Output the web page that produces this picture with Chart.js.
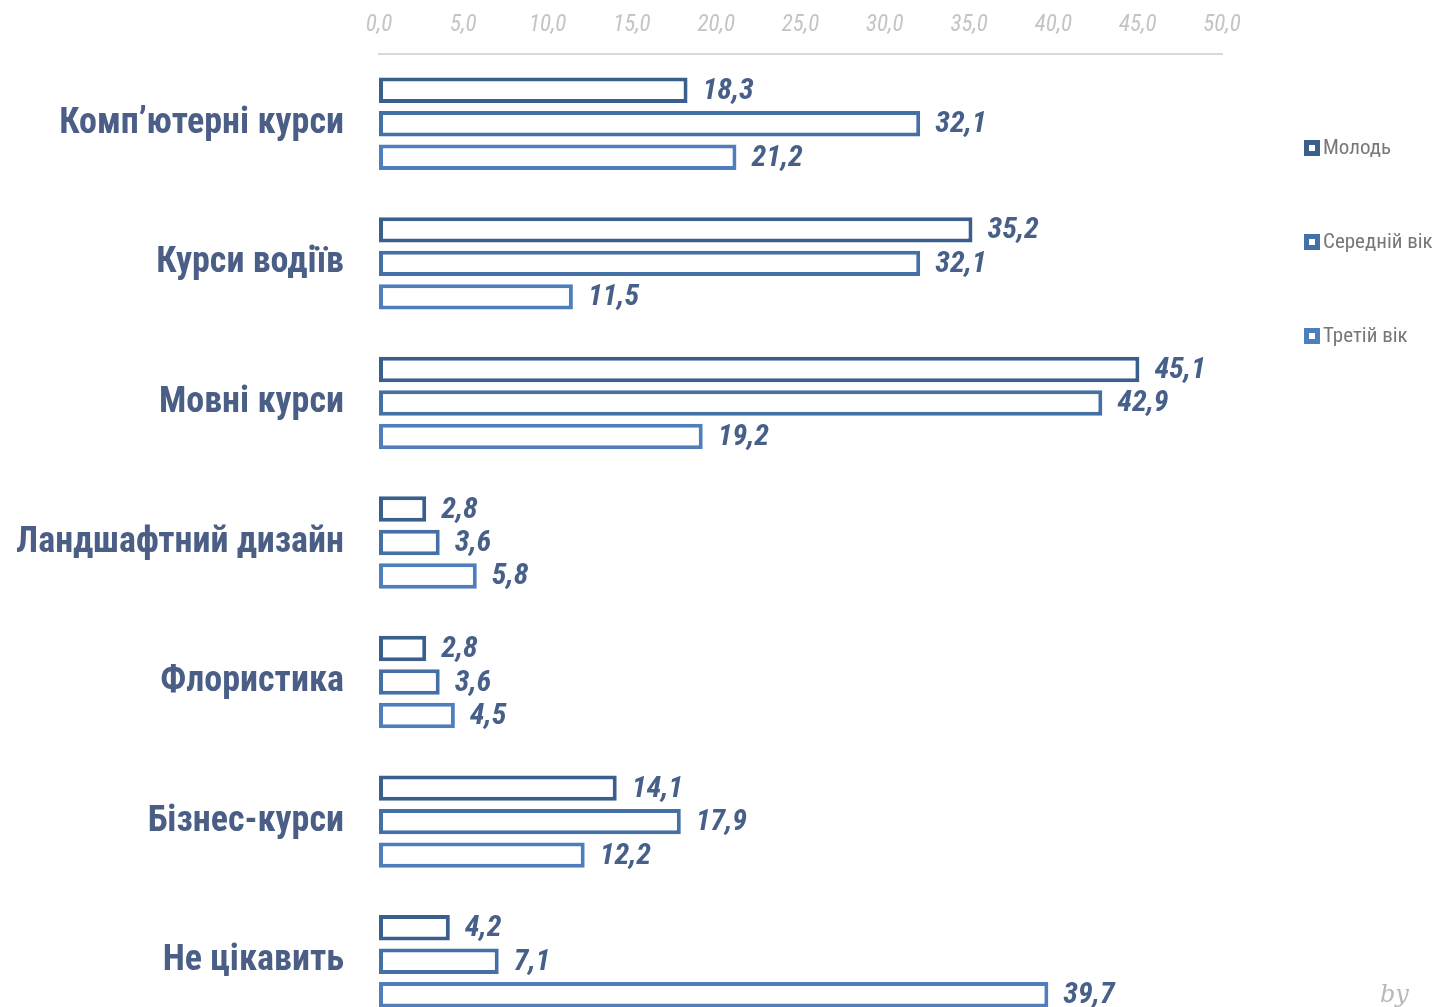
<!DOCTYPE html>
<html>
<head>
<meta charset="utf-8">
<script src="https://cdn.jsdelivr.net/npm/chart.js"></script>
<style>
  html, body { margin: 0; padding: 0; background: #fff; overflow: hidden; }
  #wrap { position: relative; width: 1440px; height: 1031px; }
  #sign { position: absolute; left: 1380px; top: 980px; font: italic 24px "DejaVu Serif", serif; color: #b8b8b8; }
</style>
</head>
<body>
<div id="wrap">
  <canvas id="myChart" width="1440" height="1031"></canvas>
  <div id="sign">by Az</div>
</div>
<script>
const categories = ['Комп’ютерні курси', 'Курси водіїв', 'Мовні курси', 'Ландшафтний дизайн', 'Флористика', 'Бізнес-курси', 'Не цікавить'];
const seriesNames = ['Молодь', 'Середній вік', 'Третій вік'];
const young = [18.3, 35.2, 45.1, 2.8, 2.8, 14.1, 4.2];
const middle = [32.1, 32.1, 42.9, 3.6, 3.6, 17.9, 7.1];
const older = [21.2, 11.5, 19.2, 5.8, 4.5, 12.2, 39.7];
const ticks = [0, 5, 10, 15, 20, 25, 30, 35, 40, 45, 50];
const colors = ['#3b5f8c', '#4470a6', '#4e7ebc'];

const narrow = '"Liberation Sans Narrow", "Arial Narrow", "Roboto Condensed", sans-serif';
const fmt = v => v.toFixed(1).replace('.', ',');

const valueLabels = {
    id: 'valueLabels',
    afterDatasetsDraw(chart) {
        const ctx = chart.ctx;
        ctx.save();
        ctx.font = 'italic bold 30px ' + narrow;
        ctx.fillStyle = '#47608a';
        ctx.textAlign = 'left';
        ctx.textBaseline = 'middle';
        chart.data.datasets.forEach((ds, i) => {
            chart.getDatasetMeta(i).data.forEach((bar, j) => {
                ctx.fillText(fmt(ds.data[j]), bar.x + 15, bar.y + 1);
            });
        });
        ctx.restore();
    }
};

const sideLegend = {
    id: 'sideLegend',
    afterDraw(chart) {
        const ctx = chart.ctx;
        ctx.save();
        ctx.font = '21px ' + narrow;
        ctx.textBaseline = 'middle';
        chart.data.datasets.forEach((ds, i) => {
            const y = 148 + i * 94;
            ctx.fillStyle = ds.borderColor;
            ctx.fillRect(1304, y - 8, 16, 16);
            ctx.fillStyle = '#fff';
            ctx.fillRect(1309, y - 3, 6, 6);
            ctx.fillStyle = '#777777';
            ctx.fillText(ds.label, 1323, y + 1);
        });
        ctx.restore();
    }
};

const ctx = document.getElementById('myChart');

new Chart(ctx, {
    type: 'bar',
    data: {
        labels: categories,
        datasets: [young, middle, older].map((d, i) => ({
            label: seriesNames[i],
            data: d,
            backgroundColor: '#ffffff',
            borderColor: colors[i],
            borderWidth: 4,
            borderSkipped: false,
            categoryPercentage: 0.72,
            barPercentage: 0.76
        }))
    },
    options: {
        indexAxis: 'y',
        responsive: false,
        animation: false,
        layout: { padding: { left: 0, right: 218, top: 0, bottom: 0 } },
        plugins: {
            legend: { display: false },
            tooltip: { enabled: false }
        },
        scales: {
            x: {
                position: 'top',
                min: 0,
                max: 50,
                afterBuildTicks: scale => { scale.ticks = ticks.map(v => ({ value: v })); },
                afterFit: scale => { scale.height = 54; scale.paddingLeft = 0; scale.paddingRight = 0; },
                grid: { display: false, drawTicks: false },
                border: { display: true, color: '#d9d9d9', width: 2 },
                ticks: {
                    padding: 15,
                    color: '#c4c4c4',
                    font: { family: narrow, size: 23, style: 'italic' },
                    callback: v => fmt(v)
                }
            },
            y: {
                afterFit: scale => { scale.width = 379; scale.paddingTop = 0; scale.paddingBottom = 0; },
                grid: { display: false, drawTicks: false },
                border: { display: false },
                ticks: {
                    padding: 35,
                    color: '#4a5e86',
                    font: { family: narrow, size: 36, weight: 'bold' }
                }
            }
        }
    },
    plugins: [valueLabels, sideLegend]
});
</script>
</body>
</html>
